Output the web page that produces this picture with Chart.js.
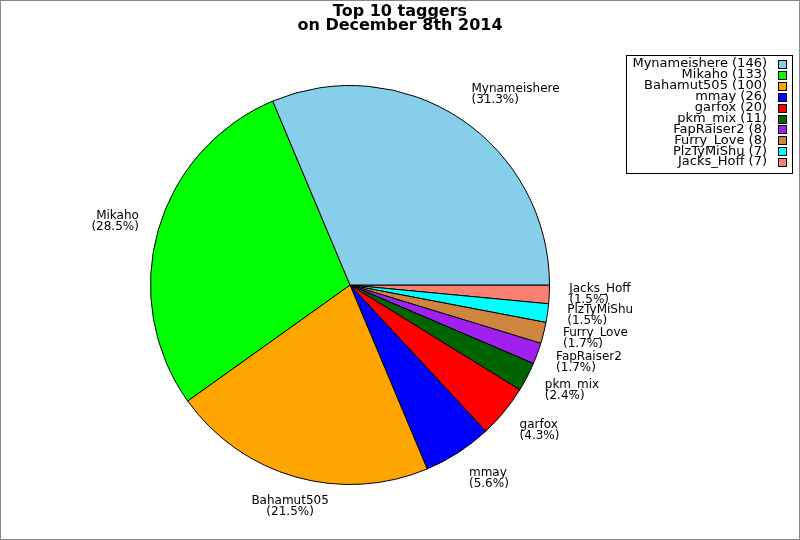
<!DOCTYPE html>
<html>
<head>
<meta charset="utf-8">
<script src="https://cdn.jsdelivr.net/npm/chart.js@4"></script>
<style>
  body { margin: 0; background: #fff; }
  #wrap { width: 800px; height: 540px; }
</style>
</head>
<body>
<div id="wrap"><canvas id="pie" width="800" height="540"></canvas></div>
<script>
const taggers = ['Mynameishere','Mikaho','Bahamut505','mmay','garfox','pkm_mix','FapRaiser2','Furry_Love','PlzTyMiShu','Jacks_Hoff'];
const counts = [146,133,100,26,20,11,8,8,7,7];
const colors = ['#87ceeb','#00ff00','#ffa500','#0000ff','#ff0000','#006400','#a020f0','#cd853f','#00ffff','#fa8072'];
const titleLines = ['Top 10 taggers','on December 8th 2014'];

const total = counts.reduce((s, v) => s + v, 0);
const FONT = '"DejaVu Sans", sans-serif';

// slices go counter-clockwise from 3 o'clock in the original,
// chart.js goes clockwise, so feed it reversed and start at 90deg
const revLabels = taggers.slice().reverse();
const revCounts = counts.slice().reverse();
const revColors = colors.slice().reverse();

const extras = {
    id: 'extras',
    afterDraw(chart) {
        const c = chart.ctx;
        c.save();

        // frame
        c.strokeStyle = '#888';
        c.lineWidth = 1;
        c.strokeRect(0.5, 0.5, chart.width - 1, chart.height - 1);

        // title
        c.fillStyle = '#000';
        c.font = 'bold 16px ' + FONT;
        c.textAlign = 'center';
        c.textBaseline = 'alphabetic';
        c.fillText(titleLines[0], 400, 16);
        c.fillText(titleLines[1], 400, 30);

        // slice labels
        const meta = chart.getDatasetMeta(0);
        c.font = '12px ' + FONT;
        c.textBaseline = 'middle';
        meta.data.forEach((arc, i) => {
            const mid = (arc.startAngle + arc.endAngle) / 2;
            const r = arc.outerRadius * 1.1;
            const cs = Math.cos(mid), sn = Math.sin(mid);
            const x = arc.x + r * cs;
            const y = arc.y + r * sn + (sn > 0 ? 13 : 7) * sn - 2;
            if (cs > 0.3) c.textAlign = 'left';
            else if (cs < -0.3) c.textAlign = 'right';
            else c.textAlign = 'center';
            const pct = (revCounts[i] / total * 100).toFixed(1);
            c.fillText(revLabels[i], x, y - 5.5);
            c.fillText('(' + pct + '%)', x, y + 5.5);
        });

        // legend
        c.strokeStyle = '#000';
        c.strokeRect(626.5, 55.5, 166, 118);
        c.font = '13px ' + FONT;
        c.textAlign = 'right';
        taggers.forEach((name, i) => {
            const y = 64 + i * 10.9;
            c.fillStyle = '#000';
            c.fillText(name + ' (' + counts[i] + ')', 767, y);
            c.fillStyle = colors[i];
            c.fillRect(778, Math.round(y) - 4, 8, 8);
            c.strokeRect(778.5, Math.round(y) - 3.5, 8, 8);
        });

        c.restore();
    }
};

const chart = new Chart(document.getElementById('pie').getContext('2d'), {
    type: 'pie',
    data: {
        labels: revLabels,
        datasets: [{
            data: revCounts,
            backgroundColor: revColors,
            borderColor: '#000',
            borderWidth: 1
        }]
    },
    options: {
        responsive: false,
        animation: false,
        devicePixelRatio: 1,
        rotation: 90,
        layout: {
            padding: {left: 150, right: 250, top: 85, bottom: 55}
        },
        plugins: {
            legend: { display: false },
            title: { display: false },
            tooltip: { enabled: false }
        }
    },
    plugins: [extras]
});
</script>
</body>
</html>
